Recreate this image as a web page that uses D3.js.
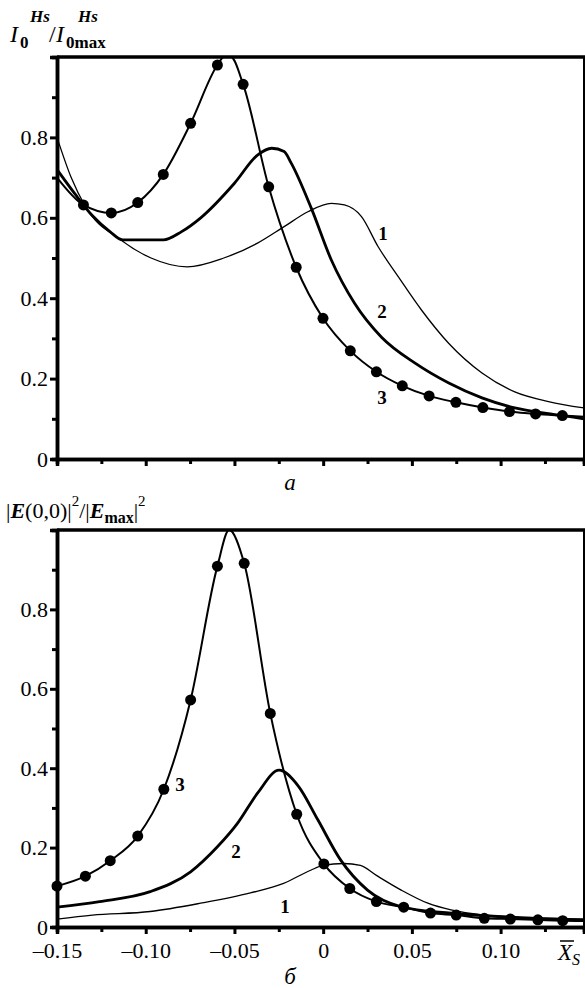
<!DOCTYPE html>
<html>
<head>
<meta charset="utf-8">
<script src="https://cdn.jsdelivr.net/npm/d3@7"></script>
<style>
body { margin: 0; background: #fff; }
svg text { font-family: "Liberation Serif", "Times New Roman", serif !important; fill: #000; }
</style>
</head>
<body>
<div id="chart"></div>
<script>
// ---- data ----
var xMajor = [-0.15, -0.10, -0.05, 0, 0.05, 0.10];
var xMinor = [-0.125, -0.075, -0.025, 0.025, 0.075, 0.125];
var yMajor = [0, 0.2, 0.4, 0.6, 0.8];
var yMinor = [0.1, 0.3, 0.5, 0.7, 0.9];

// panel a
var a1x = [-0.15, -0.142, -0.134, -0.114, -0.097, -0.0766, -0.056, -0.037, -0.022, -0.0086, 0.0046, 0.012, 0.0216, 0.031, 0.0424, 0.0555, 0.0707, 0.0895, 0.108, 0.127, 0.147];
var a1y = [0.80, 0.70, 0.628, 0.545, 0.50, 0.478, 0.50, 0.537, 0.578, 0.615, 0.636, 0.632, 0.603, 0.528, 0.453, 0.37, 0.288, 0.214, 0.167, 0.143, 0.127];
var a2x = [-0.15, -0.14, -0.13, -0.12, -0.113, -0.09, -0.08, -0.069, -0.05, -0.037, -0.029, -0.022, -0.018, -0.0067, 0.0046, 0.0176, 0.0329, 0.0516, 0.0708, 0.0895, 0.108, 0.128, 0.147];
var a2y = [0.72, 0.66, 0.605, 0.565, 0.545, 0.545, 0.565, 0.60, 0.686, 0.756, 0.773, 0.765, 0.736, 0.624, 0.495, 0.388, 0.303, 0.239, 0.189, 0.152, 0.127, 0.112, 0.100];
var a3x = [-0.15, -0.1351, -0.1194, -0.1045, -0.0901, -0.0747, -0.0596, -0.056, -0.052, -0.0451, -0.0307, -0.0152, -0.0001, 0.0153, 0.030, 0.0446, 0.0597, 0.0748, 0.090, 0.105, 0.1197, 0.1348, 0.147];
var a3y = [0.70, 0.632, 0.612, 0.638, 0.708, 0.835, 0.980, 1.0, 1.0, 0.932, 0.677, 0.477, 0.35, 0.269, 0.217, 0.182, 0.157, 0.141, 0.128, 0.118, 0.112, 0.108, 0.105];
var a3dots = [1, 2, 3, 4, 5, 6, 9, 10, 11, 12, 13, 14, 15, 16, 17, 18, 19, 20, 21];

// panel б
var b1x = [-0.15, -0.13, -0.0975, -0.069, -0.041, -0.0223, -0.007, 0.0, 0.0115, 0.021, 0.030, 0.044, 0.059, 0.072, 0.091, 0.147];
var b1y = [0.02, 0.03, 0.039, 0.06, 0.086, 0.11, 0.143, 0.155, 0.16, 0.155, 0.13, 0.093, 0.06, 0.043, 0.03, 0.02];
var b2x = [-0.15, -0.126, -0.0975, -0.0747, -0.0596, -0.0483, -0.037, -0.0248, -0.014, -0.003, 0.0098, 0.025, 0.044, 0.072, 0.10, 0.147];
var b2y = [0.05, 0.064, 0.089, 0.139, 0.202, 0.261, 0.337, 0.395, 0.355, 0.27, 0.169, 0.093, 0.051, 0.035, 0.026, 0.018];
var b3x = [-0.15, -0.134, -0.120, -0.1045, -0.0898, -0.0747, -0.0596, -0.053, -0.0445, -0.0298, -0.0149, 0.0004, 0.015, 0.030, 0.0454, 0.0605, 0.075, 0.0908, 0.1055, 0.121, 0.135, 0.147];
var b3y = [0.103, 0.128, 0.167, 0.229, 0.347, 0.572, 0.909, 1.0, 0.916, 0.538, 0.284, 0.159, 0.097, 0.064, 0.05, 0.035, 0.03, 0.022, 0.02, 0.018, 0.016, 0.015];
var b3dots = [0, 1, 2, 3, 4, 5, 6, 8, 9, 10, 11, 12, 13, 14, 15, 16, 17, 18, 19, 20];

var svg = d3.select("#chart").append("svg")
    .attr("width", 585)
    .attr("height", 988);

var x = d3.scaleLinear().domain([-0.15, 0.147]).range([57, 584]);

function fmt(v) {
    if (v === 0) return "0";
    return (v < 0 ? "\u2013" : "") + Math.abs(v).toFixed(2);
}

function panel(yTop, yBottom, series, showXLabels) {
    var y = d3.scaleLinear().domain([0, 1]).range([yBottom, yTop]);
    var g = svg.append("g");

    // minor ticks
    g.append("g").attr("transform", "translate(57,0)")
        .call(d3.axisLeft(y).tickValues(yMinor).tickSize(5).tickFormat(""))
        .call(a => a.selectAll("line").attr("stroke-width", 3));
    g.append("g").attr("transform", "translate(0," + yBottom + ")")
        .call(d3.axisBottom(x).tickValues(xMinor).tickSize(5).tickFormat(""))
        .call(a => a.selectAll("line").attr("stroke-width", 3));

    var ya = g.append("g").attr("transform", "translate(57,0)")
        .attr("font-family", null)
        .call(d3.axisLeft(y).tickValues(yMajor).tickSize(7).tickPadding(2)
            .tickFormat(d => d === 0 ? "0" : d.toFixed(1)));
    ya.attr("font-family", "Liberation Serif");
    ya.selectAll("line").attr("stroke-width", 3);
    ya.selectAll("text").style("font-size", "22px");

    var xa = g.append("g").attr("transform", "translate(0," + yBottom + ")")
        .call(d3.axisBottom(x).tickValues(xMajor).tickSize(7).tickPadding(8)
            .tickFormat(showXLabels ? fmt : ""));
    xa.attr("font-family", "Liberation Serif");
    xa.selectAll("line").attr("stroke-width", 3);
    xa.selectAll("text").style("font-size", "22px");

    g.selectAll(".domain").attr("stroke-width", 3.5);

    // frame top and right
    g.append("line").attr("x1", 57).attr("x2", 585).attr("y1", yTop).attr("y2", yTop)
        .attr("stroke", "#000").attr("stroke-width", 3.5);
    g.append("line").attr("x1", 584).attr("x2", 584).attr("y1", yTop).attr("y2", yBottom)
        .attr("stroke", "#000").attr("stroke-width", 2);

    series.forEach(function (s) {
        var pts = s.xs.map((v, i) => [v, s.ys[i]]);
        var line = d3.line().x(d => x(d[0])).y(d => y(d[1])).curve(d3.curveMonotoneX);
        g.append("path").datum(pts).attr("d", line)
            .attr("fill", "none").attr("stroke", "#000").attr("stroke-width", s.w);
        if (s.dots) {
            g.selectAll(null).data(s.dots.map(i => pts[i])).enter().append("circle")
                .attr("cx", d => x(d[0])).attr("cy", d => y(d[1]))
                .attr("r", 5.5).attr("fill", "#000");
        }
    });
    return y;
}

panel(57, 459, [
    { xs: a1x, ys: a1y, w: 1.3 },
    { xs: a2x, ys: a2y, w: 2.8 },
    { xs: a3x, ys: a3y, w: 2, dots: a3dots }
], false);

panel(530, 927, [
    { xs: b1x, ys: b1y, w: 1.3 },
    { xs: b2x, ys: b2y, w: 2.8 },
    { xs: b3x, ys: b3y, w: 2, dots: b3dots }
], true);

// curve numbers
var labels = [["1", 383, 240], ["2", 382, 318], ["3", 382, 404], ["3", 180, 791], ["2", 236, 858], ["1", 285, 913]];
svg.selectAll(null).data(labels).enter().append("text")
    .attr("x", d => d[1]).attr("y", d => d[2])
    .attr("text-anchor", "middle").attr("font-size", 19).attr("font-weight", "bold").text(d => d[0]);

// axis title, panel a (each piece placed on its own)
var t1 = [
    ["I", 10, 42, 24, "italic", "normal"],
    ["0", 20, 48, 17, "normal", "bold"],
    ["Hs", 30, 22, 17, "italic", "bold"],
    ["/", 49, 42, 24, "normal", "normal"],
    ["I", 56, 42, 24, "italic", "normal"],
    ["0max", 66, 48, 17, "normal", "bold"],
    ["Hs", 78, 22, 17, "italic", "bold"]
];
svg.selectAll(null).data(t1).enter().append("text")
    .attr("x", d => d[1]).attr("y", d => d[2])
    .style("font-size", d => d[3] + "px")
    .attr("font-style", d => d[4]).attr("font-weight", d => d[5])
    .text(d => d[0]);

var t2 = svg.append("text").attr("x", 6).attr("y", 518).style("font-size", "22px");
t2.append("tspan").text("|");
t2.append("tspan").attr("font-style", "italic").attr("font-weight", "bold").text("E");
t2.append("tspan").text("(0,0)|");
t2.append("tspan").style("font-size", "15px").attr("dy", -12).text("2");
t2.append("tspan").attr("dy", 12).text("/|");
t2.append("tspan").attr("font-style", "italic").attr("font-weight", "bold").text("E");
t2.append("tspan").style("font-size", "16px").attr("font-weight", "bold").attr("dy", 5).text("max");
t2.append("tspan").attr("dy", -5).text("|");
t2.append("tspan").style("font-size", "15px").attr("dy", -12).text("2");

// panel captions
svg.append("text").attr("x", 290).attr("y", 490).attr("text-anchor", "middle")
    .style("font-size", "23px").attr("font-style", "italic").text("a");
svg.append("text").attr("x", 290).attr("y", 984).attr("text-anchor", "middle")
    .style("font-size", "23px").attr("font-style", "italic").text("б");

// x axis name
var xs = svg.append("text").attr("x", 558).attr("y", 960).style("font-size", "23px").attr("font-style", "italic");
xs.append("tspan").text("X");
xs.append("tspan").style("font-size", "16px").attr("dy", 5).text("S");
svg.append("line").attr("x1", 560).attr("x2", 574).attr("y1", 941).attr("y2", 941)
    .attr("stroke", "#000").attr("stroke-width", 1.5);
</script>
</body>
</html>
